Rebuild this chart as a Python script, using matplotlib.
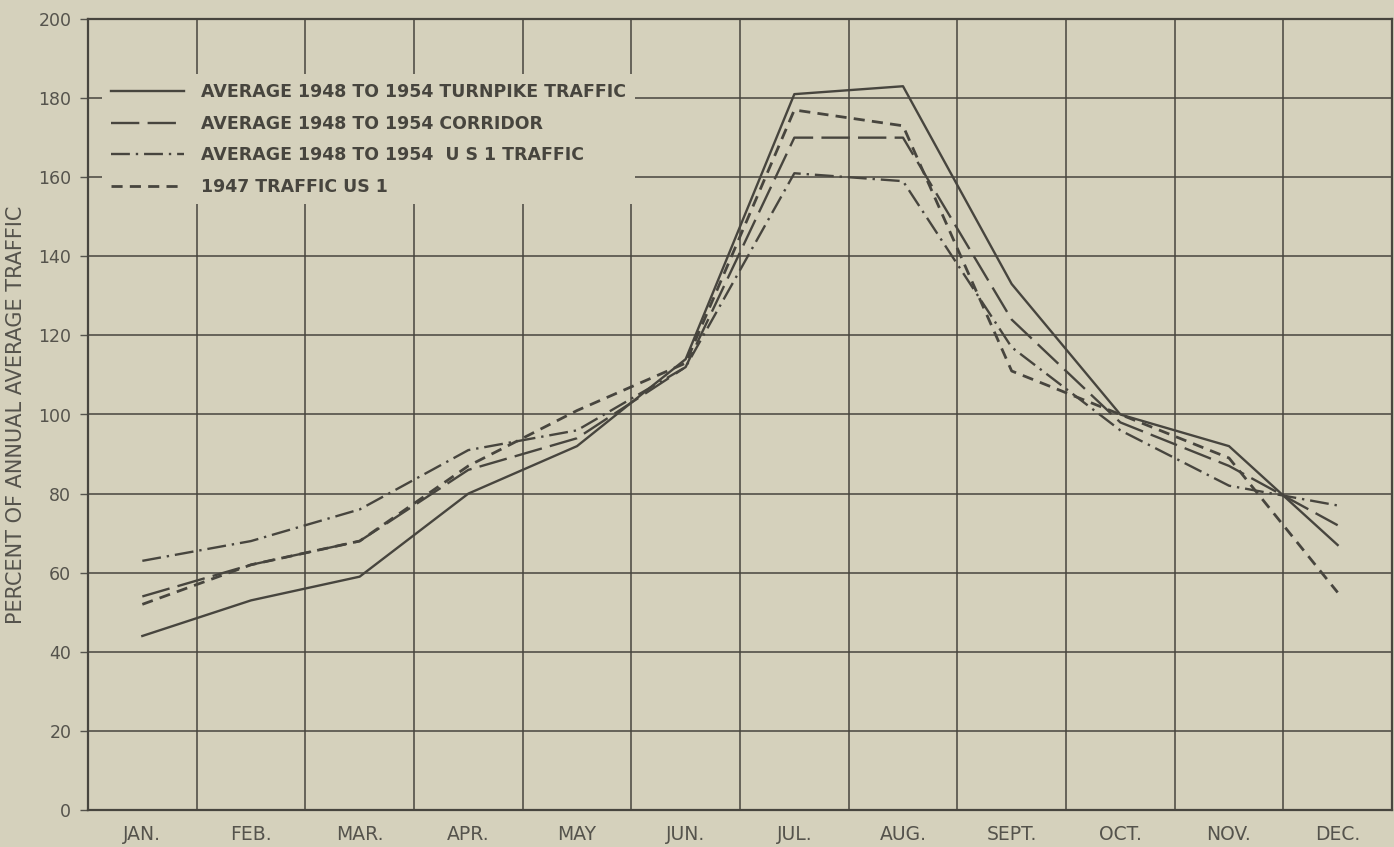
import matplotlib
matplotlib.use("Agg")
import matplotlib.pyplot as plt
import numpy as np

months = ["JAN.", "FEB.", "MAR.", "APR.", "MAY", "JUN.", "JUL.", "AUG.",
          "SEPT.", "OCT.", "NOV.", "DEC."]

turnpike = [44, 53, 59, 80, 92, 114, 181, 183, 133, 100, 92, 67]
corridor = [54, 62, 68, 86, 94, 112, 170, 170, 124, 98, 87, 72]
us1_avg  = [63, 68, 76, 91, 96, 112, 161, 159, 117, 96, 82, 77]
us1_1947 = [52, 62, 68, 87, 101, 113, 177, 173, 111, 100, 89, 55]

labels = ["AVERAGE 1948 TO 1954 TURNPIKE TRAFFIC",
          "AVERAGE 1948 TO 1954 CORRIDOR",
          "AVERAGE 1948 TO 1954  U S 1 TRAFFIC",
          "1947 TRAFFIC US 1"]

yticks = list(range(0, 201, 20))

bg = "#d5d1bc"
ink = "#47453e"
txt = "#55534c"

fig = plt.figure(figsize=(13.94, 8.47), dpi=100)
fig.patch.set_facecolor(bg)
ax = fig.add_axes([88/1394, 37/847, (1392-88)/1394, (810-19)/847])
ax.set_facecolor(bg)

x = np.arange(len(months))
lw = 1.7
l1, = ax.plot(x, turnpike, color=ink, lw=lw, ls="-", label=labels[0], zorder=3)
l2, = ax.plot(x, corridor, color=ink, lw=lw, ls=(0, (12, 3.5)), label=labels[1], zorder=3)
l3, = ax.plot(x, us1_avg, color=ink, lw=lw, ls=(0, (8, 2.5, 1, 2.5)), label=labels[2], zorder=3)
l4, = ax.plot(x, us1_1947, color=ink, lw=lw + 0.3, ls=(0, (4, 2.6)), label=labels[3], zorder=3)

ax.set_xlim(-0.5, 11.5)
ax.set_ylim(0, 200)

# grid at cell boundaries and at the y ticks
for xv in np.arange(-0.5, 12.0, 1.0):
    ax.axvline(xv, color=ink, lw=1.1, zorder=1)
for yv in yticks:
    ax.axhline(yv, color=ink, lw=1.1, zorder=1)

ax.set_xticks(x)
ax.set_xticklabels(months)
ax.set_yticks(yticks)
ax.set_yticklabels([str(v) for v in yticks])
ax.tick_params(axis="x", length=0, pad=11, labelsize=13.5, colors=txt)
ax.tick_params(axis="y", length=6, width=1, pad=6, labelsize=12.5, colors=txt, direction="out")
for s in ax.spines.values():
    s.set_color(ink)
    s.set_linewidth(1.6)

ax.set_ylabel("PERCENT OF ANNUAL AVERAGE TRAFFIC",
              fontsize=15, color=txt, labelpad=9)

leg = ax.legend(handles=[l1, l2, l3, l4], loc="upper left",
                bbox_to_anchor=(0.011, 0.93),
                prop={"size": 12.5, "weight": "bold"},
                handlelength=4.2, handletextpad=1.0, labelspacing=0.78,
                frameon=True, facecolor=bg, edgecolor="none", framealpha=1,
                borderpad=0.5, borderaxespad=0)
leg.set_zorder(5)
for t in leg.get_texts():
    t.set_color(ink)

fig.savefig("out.png", dpi=100, facecolor=bg)
